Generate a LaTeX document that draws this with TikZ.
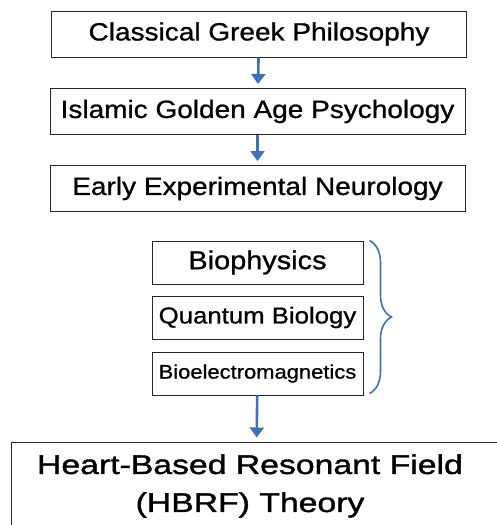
\documentclass[tikz,border=0pt]{standalone}
\usepackage{fontspec}
\setmainfont{Liberation Sans}
\newfontfamily\boxfont[FakeStretch=1.12,FakeBold=0.9]{Liberation Sans}
\newfontfamily\widefont[FakeStretch=1.25,FakeBold=1.4]{Liberation Sans}
\usetikzlibrary{arrows.meta,decorations.pathreplacing,calc}
\definecolor{arrowblue}{HTML}{3D72B8}
\tikzset{
  stagebox/.style={draw=black!85, line width=1pt, minimum width=415pt, minimum height=46pt, inner sep=0pt, font=\boxfont\fontsize{25}{30}\selectfont},
  fieldbox/.style={draw=black!85, line width=1pt, minimum width=211pt, minimum height=43pt, inner sep=0pt},
  flow/.style={arrowblue, line width=2.6pt, -{Triangle[width=14pt,length=10pt]}, shorten >=4pt}
}
\begin{document}
\begin{tikzpicture}[x=1pt,y=-1pt]
  \useasboundingbox (0,0) rectangle (497,525);

  % historical stages
  \node[stagebox] (greek) at (259,34) {Classical Greek Philosophy};
  \node[stagebox] (islamic) at (257.5,111.5) {Islamic Golden Age Psychology};
  \node[stagebox] (neuro) at (257.5,188.5) {Early Experimental Neurology};

  \draw[flow] (greek) -- (islamic);
  \draw[flow] (islamic) -- (neuro);

  % modern fields
  \node[fieldbox, font=\boxfont\fontsize{25.8}{30}\selectfont] (biophys) at (257.5,262.5) {Biophysics};
  \node[fieldbox, font=\boxfont\fontsize{23}{28}\selectfont] (quantum) at (257.5,317.5) {Quantum Biology};
  \node[fieldbox, font=\boxfont\fontsize{19.6}{24}\selectfont] (bioem) at (257.5,373.5) {Bioelectromagnetics};

  % brace round the fields
  \coordinate (bracetop) at ($(biophys.north east)+(6,0)$);
  \coordinate (bracebot) at ($(bioem.south east)+(6,-2)$);
  \draw[arrowblue, line width=1.6pt, decorate, decoration={brace, amplitude=22pt, aspect=0.5}]
    (bracetop) -- (bracebot);

  % theory
  \node[draw=black!85, line width=1pt, minimum width=490pt, minimum height=98pt] (hbrf) at (256,491) {};
  \node[font=\widefont\fontsize{27}{38}\selectfont, align=center] (hbrftext) at (250,486)
    {Heart-Based Resonant Field\\(HBRF) Theory};

  \draw[flow] (bioem) -- (hbrf);
\end{tikzpicture}
\end{document}
